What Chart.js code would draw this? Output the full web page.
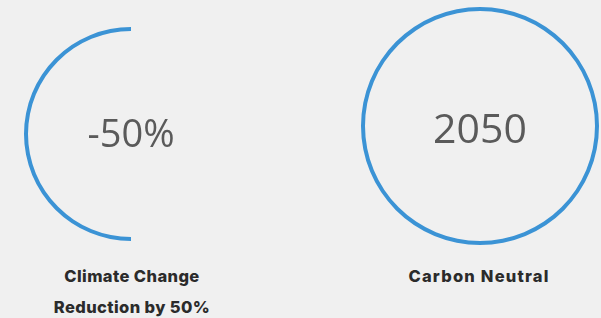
<!DOCTYPE html>
<html>
<head>
<meta charset="utf-8">
<script src="https://cdn.jsdelivr.net/npm/chart.js@4"></script>
<style>
  html, body { margin: 0; padding: 0; background: #f0f0f0; }
  body { width: 601px; height: 318px; position: relative; overflow: hidden; }
  canvas { position: absolute; }
  .caption {
    position: absolute; width: 240px; text-align: center;
    font-family: Inter, "Noto Sans", sans-serif; font-weight: 800;
    font-size: 16.5px; line-height: 31px; color: #2b2b2b; letter-spacing: 0.4px;
  }
</style>
</head>
<body>
<canvas id="left"></canvas>
<canvas id="right"></canvas>
<div class="caption" style="left:12px; top:261px;">Climate Change<br>Reduction by 50%</div>
<div class="caption" style="left:359px; top:261px; letter-spacing:1.2px;">Carbon Neutral</div>
<script>
const reductionLabels = ['Reduced', 'Remaining'];
const reductionValues = [50, 50];
const neutralLabels = ['Carbon Neutral'];
const neutralValues = [100];
const centerTexts = ['-50%', '2050'];

const ringColor = '#3b93d5';

const centerText = {
  id: 'centerText',
  afterDraw(chart, args, opts) {
    const arc = chart.getDatasetMeta(0).data[0];
    const ctx = chart.ctx;
    ctx.save();
    ctx.font = '400 ' + opts.size + 'px "Open Sans", sans-serif';
    ctx.fillStyle = '#5a5a5a';
    ctx.textAlign = 'center';
    ctx.textBaseline = 'middle';
    ctx.fillText(opts.text, arc.x, arc.y + opts.dy);
    ctx.restore();
  }
};

function ring(id, left, top, size, labels, values, colors, rotation, text, fontSize, dy) {
  const el = document.getElementById(id);
  el.width = size;
  el.height = size;
  el.style.left = left + 'px';
  el.style.top = top + 'px';
  el.style.width = size + 'px';
  el.style.height = size + 'px';
  return new Chart(el, {
    type: 'doughnut',
    data: {
      labels: labels,
      datasets: [{
        data: values,
        backgroundColor: colors,
        borderWidth: 0,
        hoverOffset: 0
      }]
    },
    options: {
      responsive: false,
      animation: false,
      rotation: rotation,
      cutout: size / 2 - 4,
      layout: { padding: 0 },
      plugins: {
        legend: { display: false },
        tooltip: { enabled: false },
        centerText: { text: text, size: fontSize, dy: dy }
      }
    },
    plugins: [centerText]
  });
}

ring('left', 24, 27, 214, reductionLabels, reductionValues, [ringColor, 'rgba(0,0,0,0)'], 180, centerTexts[0], 38, 2);
ring('right', 361, 7, 238, neutralLabels, neutralValues, [ringColor], 0, centerTexts[1], 41, 5);
</script>
</body>
</html>
